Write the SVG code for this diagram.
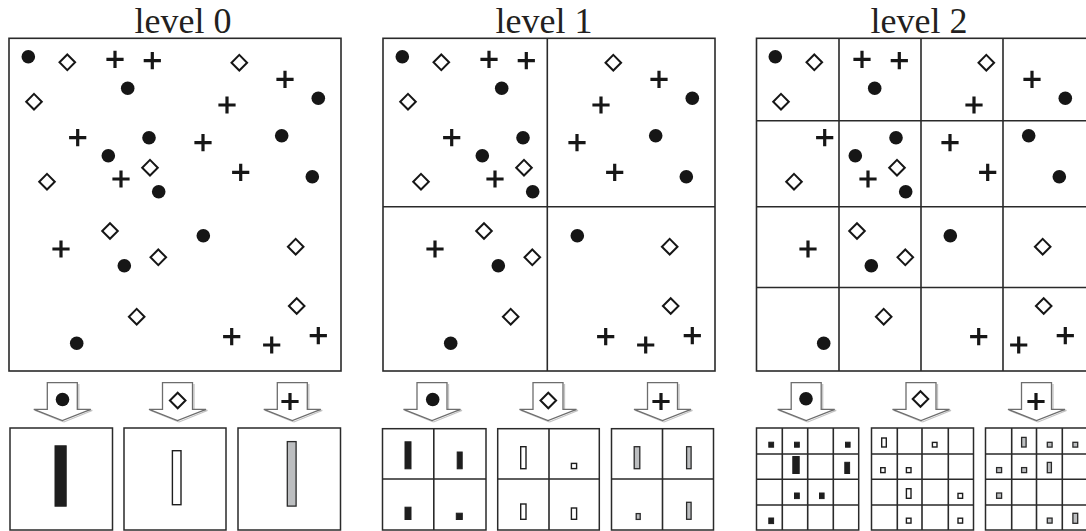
<svg xmlns="http://www.w3.org/2000/svg" width="1086" height="531" viewBox="0 0 1086 531">
<style>
.title{font-family:"Liberation Serif","Times New Roman",serif;font-size:36px;fill:#231f20;text-anchor:middle}
.frame{fill:#fff;stroke:#2a2a2a;stroke-width:1.6}
.grid{stroke:#2a2a2a;stroke-width:1.6;fill:none}
.hbox{fill:#fff;stroke:#2a2a2a;stroke-width:1.5}
.arrow{fill:#fff;stroke:#6d6d6d;stroke-width:1.3;stroke-linejoin:miter}
.ashadow{fill:none;stroke:#c4c4c4;stroke-width:1.3}
.bk{fill:#1e1e1e;stroke:#1e1e1e;stroke-width:1}
.wh{fill:#fff;stroke:#1e1e1e;stroke-width:1.4}
.gr{fill:#bcbec0;stroke:#2a2a2a;stroke-width:1.3}
</style>
<defs>
<circle id="dot" r="6.8" fill="#161616"/>
<path id="dia" d="M0,-7.8 L7.8,0 L0,7.8 L-7.8,0 Z" fill="#fff" stroke="#161616" stroke-width="2"/>
<path id="plus" d="M-8.6,0 H8.6 M0,-8.6 V8.6" stroke="#161616" stroke-width="3.2" fill="none"/>
<g id="pts">
<use href="#dot" x="28.3" y="56.7"/>
<use href="#dot" x="127.7" y="88.3"/>
<use href="#dot" x="318.3" y="98.3"/>
<use href="#dot" x="149" y="137.7"/>
<use href="#dot" x="281.7" y="135.7"/>
<use href="#dot" x="108.3" y="155.7"/>
<use href="#dot" x="312.3" y="176.7"/>
<use href="#dot" x="158.7" y="191.7"/>
<use href="#dot" x="203.3" y="235.7"/>
<use href="#dot" x="124.3" y="265.7"/>
<use href="#dot" x="76.7" y="343.3"/>
<use href="#dia" x="67.3" y="62.3"/>
<use href="#dia" x="239.3" y="62.7"/>
<use href="#dia" x="34" y="101.7"/>
<use href="#dia" x="150" y="167.7"/>
<use href="#dia" x="47" y="181.7"/>
<use href="#dia" x="110" y="231"/>
<use href="#dia" x="295.7" y="246.7"/>
<use href="#dia" x="158.3" y="257.3"/>
<use href="#dia" x="296.7" y="306"/>
<use href="#dia" x="136.7" y="316.7"/>
<use href="#plus" x="115" y="59.3"/>
<use href="#plus" x="152.3" y="60.7"/>
<use href="#plus" x="285" y="79.3"/>
<use href="#plus" x="227" y="105"/>
<use href="#plus" x="77.7" y="137.7"/>
<use href="#plus" x="203" y="142.7"/>
<use href="#plus" x="121" y="179"/>
<use href="#plus" x="240.7" y="172.3"/>
<use href="#plus" x="61" y="249"/>
<use href="#plus" x="231.7" y="336.7"/>
<use href="#plus" x="271.7" y="345"/>
<use href="#plus" x="318.3" y="335.7"/>
</g>
<g id="arr">
<path class="ashadow" d="M16.5,-16 V10.5 H30 L1.5,22 M-13.5,10.5 H-27 L1.5,22"/>
<path class="arrow" d="M-15,-17.3 H15 V9.3 H28.5 L0,20.5 L-28.5,9.3 H-15 Z"/>
</g>
</defs>

<!-- titles -->
<text class="title" x="183" y="33">level 0</text>
<text class="title" x="544" y="33">level 1</text>
<text class="title" x="919" y="33">level 2</text>

<!-- level 0 -->
<g id="level0">
<rect class="frame" x="9" y="38.3" width="332" height="332.7"/>
<use href="#pts"/>
</g>

<!-- level 1 -->
<g id="level1">
<rect class="frame" x="383" y="38.3" width="332" height="332.7"/>
<use href="#pts" x="374"/>
<path class="grid" d="M547.3,38.3 V371 M383,206.7 H715"/>
</g>

<!-- level 2 -->
<g id="level2">
<rect class="frame" x="756.5" y="38.3" width="331" height="332.7"/>
<use href="#pts" x="747"/>
<path class="grid" d="M839,38.3 V371 M921,38.3 V371 M1003,38.3 V371 M756.5,120.7 H1088 M756.5,206.7 H1088 M756.5,287.5 H1088"/>
</g>

<!-- arrows -->
<g id="connectors">
<use href="#arr" x="62.3" y="400"/>
<use href="#arr" x="177.5" y="400"/>
<use href="#arr" x="292.3" y="400"/>
<use href="#arr" x="432" y="400"/>
<use href="#arr" x="548" y="400"/>
<use href="#arr" x="662.5" y="400"/>
<use href="#arr" x="806.2" y="400"/>
<use href="#arr" x="921" y="400"/>
<use href="#arr" x="1036.5" y="400"/>
</g>
<g id="arrow-symbols">
<use href="#dot" x="62.5" y="399.5"/>
<use href="#dia" x="177.7" y="400.5"/>
<use href="#plus" x="290" y="401.5"/>
<use href="#dot" x="432.7" y="399.5"/>
<use href="#dia" x="548.3" y="400.5"/>
<use href="#plus" x="661" y="401.5"/>
<use href="#dot" x="806" y="398.8"/>
<use href="#dia" x="920.5" y="399"/>
<use href="#plus" x="1036" y="401.5"/>
</g>

<!-- level 0 histograms -->
<g id="hist0">
<rect class="hbox" x="10" y="428" width="102.5" height="102"/>
<rect class="hbox" x="124" y="428" width="102" height="102"/>
<rect class="hbox" x="238" y="428" width="102.5" height="102"/>
<rect class="bk" x="55" y="445.8" width="11.2" height="60.4"/>
<rect class="wh" x="172.4" y="450.7" width="8.6" height="54"/>
<rect class="gr" x="287.3" y="441.6" width="8.8" height="64.5"/>
</g>

<!-- level 1 histograms -->
<g id="hist1">
<rect class="hbox" x="382.5" y="428.7" width="103.5" height="101.3"/>
<rect class="hbox" x="497.7" y="428.7" width="101.6" height="101.3"/>
<rect class="hbox" x="611.5" y="428.7" width="102" height="101.3"/>
<path class="grid" d="M433.8,428.7 V530 M382.5,479 H486 M549,428.7 V530 M497.7,479 H599.3 M662.5,428.7 V530 M611.5,479 H713.5"/>
<rect class="bk" x="405" y="441.8" width="6" height="27"/>
<rect class="bk" x="457.2" y="452" width="5" height="16.8"/>
<rect class="bk" x="405" y="507.2" width="6" height="12.3"/>
<rect class="bk" x="456.3" y="513.2" width="6" height="6.3"/>
<rect class="wh" x="520.7" y="446.7" width="5.3" height="22"/>
<rect class="wh" x="571.4" y="463.4" width="5.2" height="5.2"/>
<rect class="wh" x="520.7" y="504" width="5.3" height="15.3"/>
<rect class="wh" x="571.4" y="508" width="5.2" height="11.3"/>
<rect class="gr" x="634.2" y="446.7" width="5.6" height="22"/>
<rect class="gr" x="686.6" y="446.7" width="4.5" height="22"/>
<rect class="gr" x="636.2" y="513.6" width="4" height="5.8"/>
<rect class="gr" x="686.6" y="502.3" width="4.5" height="17"/>
</g>

<!-- level 2 histograms -->
<g id="hist2">
<rect class="hbox" x="756.5" y="428" width="102.2" height="102"/>
<rect class="hbox" x="871.5" y="428" width="102" height="102"/>
<rect class="hbox" x="985.5" y="428" width="102.5" height="102"/>
<path class="grid" d="M782.3,428 V530 M807.7,428 V530 M833.3,428 V530 M756.5,454 H858.7 M756.5,479.3 H858.7 M756.5,505 H858.7 M897.3,428 V530 M922,428 V530 M948.3,428 V530 M871.5,454 H973.5 M871.5,479.3 H973.5 M871.5,505 H973.5 M1011.7,428 V530 M1036.5,428 V530 M1062.3,428 V530 M985.5,454 H1088 M985.5,479.3 H1088 M985.5,505 H1088"/>
<rect class="bk" x="768.8" y="442.2" width="4.8" height="5"/>
<rect class="bk" x="794.5" y="442.2" width="4.8" height="5"/>
<rect class="bk" x="845.5" y="442.2" width="4.6" height="5"/>
<rect class="bk" x="792.8" y="456.5" width="6.4" height="17"/>
<rect class="bk" x="844.8" y="462.3" width="4.8" height="11.2"/>
<rect class="bk" x="794.5" y="493" width="4.8" height="5.6"/>
<rect class="bk" x="819.5" y="493" width="4.6" height="5.6"/>
<rect class="bk" x="768.8" y="518" width="4.8" height="5.6"/>
<rect class="wh" x="881.7" y="438" width="4.6" height="9"/>
<rect class="wh" x="932.4" y="442.4" width="4.6" height="4.6"/>
<rect class="wh" x="880.7" y="467.7" width="4.4" height="4.9"/>
<rect class="wh" x="906.4" y="467.7" width="4.6" height="4.9"/>
<rect class="wh" x="906.4" y="488.7" width="4.6" height="9.6"/>
<rect class="wh" x="958" y="493.4" width="4.6" height="4.9"/>
<rect class="wh" x="906.4" y="518.2" width="4.6" height="4.9"/>
<rect class="wh" x="958" y="518.2" width="4.6" height="4.9"/>
<rect class="gr" x="1021.6" y="437.4" width="4.5" height="9.6"/>
<rect class="gr" x="1047.3" y="442.3" width="4.8" height="4.8"/>
<rect class="gr" x="1072.9" y="442.3" width="4.8" height="4.8"/>
<rect class="gr" x="996.6" y="467.6" width="5" height="5"/>
<rect class="gr" x="1021.6" y="467.6" width="5" height="5"/>
<rect class="gr" x="1047.3" y="462.4" width="4.1" height="10.3"/>
<rect class="gr" x="996.6" y="493" width="5" height="5.3"/>
<rect class="gr" x="1047.3" y="518.1" width="4.8" height="5"/>
<rect class="gr" x="1072.9" y="513.3" width="4.8" height="10"/>
</g>
</svg>
